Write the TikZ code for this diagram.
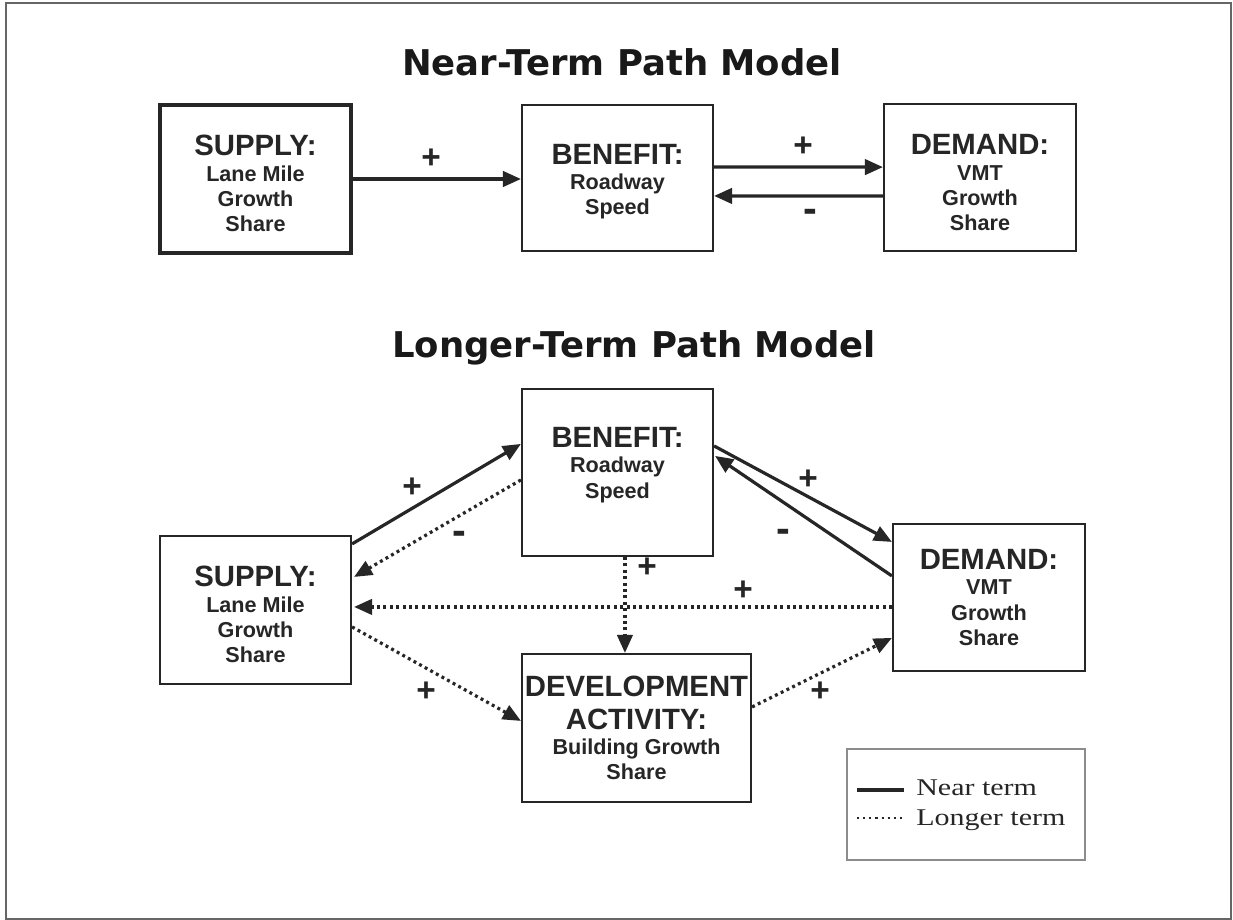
\documentclass[tikz,border=0pt]{standalone}
\usepackage{fontspec}
\setmainfont{Liberation Serif}
\setsansfont{Liberation Sans}
\newfontfamily\titlefont{DejaVu Sans}
\newfontfamily\legfont[FakeStretch=1.25]{Liberation Serif}
\usetikzlibrary{arrows.meta,calc}
\newcommand{\hdf}{\fontsize{22}{19}\selectfont}
\newcommand{\sbf}{\fontsize{16.2}{19}\selectfont}
\newcommand{\topr}[1]{\rule{0pt}{#1}}
\begin{document}
\begin{tikzpicture}[x=0.75pt,y=-0.75pt,
  box/.style={draw=black!85, line width=1.6pt, fill=white, align=center, inner sep=0pt,
    font=\sffamily\bfseries\sbf, text=black!85},
  near/.style={line width=2.4pt, black!85, -{Triangle[length=13.5pt,width=11.5pt]}},
  far/.style={line width=2.4pt, black!85, dash pattern=on 2.2pt off 2.6pt, -{Triangle[length=13.5pt,width=11.5pt]}},
  sign/.style={font=\fontsize{25}{25}\selectfont\sffamily\bfseries, text=black!85, inner sep=0pt},
  minus/.style={font=\fontsize{31}{31}\selectfont\sffamily\bfseries, text=black!85, inner sep=0pt},
  ttl/.style={font=\titlefont\bfseries\fontsize{26.6}{30}\selectfont, text=black!90, inner sep=0pt},
  leg/.style={font=\legfont\fontsize{18}{21}\selectfont, text=black!85, inner sep=0pt, anchor=base west}]
\useasboundingbox (0,0) rectangle (1233,920);
\fill[white] (0,0) rectangle (1233,920);
\draw[black!60, line width=1.5pt] (6,3) rectangle (1231,919);

% titles
\node[ttl] (t1) at (622,62) {Near-Term Path Model};
\node[ttl] (t2) at (634,348) {Longer-Term Path Model};

% near-term boxes
\node[box, line width=2.4pt, minimum width=143.25pt, minimum height=111pt] (sup1) at (255.5,179)
  {{\hdf\topr{22.5pt}SUPPLY:}\\Lane Mile\\Growth\\Share};
\node[box, minimum width=143.25pt, minimum height=109.5pt] (ben1) at (617.5,178)
  {{\hdf\topr{20.4pt}BENEFIT:}\\Roadway\\Speed};
\node[box, minimum width=144pt, minimum height=110pt] (dem1) at (980,177.5)
  {{\hdf\topr{23.2pt}DEMAND:}\\VMT\\Growth\\Share};

\draw[near] (sup1.east) -- (sup1.east -| ben1.west);
\draw[near] ($(ben1.north east)+(0,63)$) -- ($(dem1.north west)+(0,64)$);
\draw[near] ($(dem1.north west)+(0,93)$) -- ($(ben1.north east)+(0,92)$);
\node[sign] (p1) at (431,159) {+};
\node[sign] (p2) at (803,147) {+};
\node[minus] (m1) at (810,216) {-};

% longer-term boxes
\node[box, minimum width=143.25pt, minimum height=125.25pt] (ben2) at (617.5,472.5)
  {{\hdf BENEFIT:}\\Roadway\\Speed\rule[-14.5pt]{0pt}{14.5pt}};
\node[box, minimum width=143.25pt, minimum height=111pt] (sup2) at (255.5,610)
  {{\hdf\topr{22.5pt}SUPPLY:}\\Lane Mile\\Growth\\Share};
\node[box, minimum width=144pt, minimum height=110.25pt] (dem2) at (989,597.5)
  {{\hdf DEMAND:}\\VMT\\Growth\\Share};
\node[box, minimum width=171.75pt, minimum height=111pt] (dev) at (636.5,728)
  {{\hdf DEVELOPMENT}\\[5.75pt]{\hdf ACTIVITY:}\\Building Growth\\Share};

\draw[near] ($(sup2.north east)+(0,9)$) -- ($(ben2.north west)+(0,56)$);
\draw[far] ($(ben2.north west)+(0,92)$) -- ($(sup2.north east)+(2,42)$);
\draw[near] ($(ben2.north east)+(0,58)$) -- ($(dem2.north west)+(0,19)$);
\draw[near] ($(dem2.north west)+(0,53)$) -- ($(ben2.north east)+(1,68)$);
\draw[far] ($(ben2.south west)+(104,0)$) -- ($(dev.north west)+(104,0)$);
\draw[far] ($(dem2.north west)+(0,84)$) -- ($(sup2.north east)+(2,72)$);
\draw[far] ($(sup2.north east)+(0,92)$) -- ($(dev.north west)+(0,68)$);
\draw[far] ($(dev.north east)+(0,54)$) -- ($(dem2.north west)+(0,115)$);

\node[sign] (p3) at (412,488) {+};
\node[minus] (m2) at (459,538) {-};
\node[sign] (p4) at (808,480) {+};
\node[minus] (m3) at (783,536) {-};
\node[sign] (p5) at (647,568) {+};
\node[sign] (p6) at (743,591) {+};
\node[sign] (p7) at (426,692) {+};
\node[sign] (p8) at (820,692) {+};

% legend
\node[draw=black!45, line width=1pt, minimum width=178.5pt, minimum height=83.25pt, inner sep=0pt] (lg) at (966,804.5) {};
\coordinate (l1a) at (857,790);
\coordinate (l1b) at (904,790);
\coordinate (l2a) at (857,818);
\coordinate (l2b) at (904,818);
\draw[line width=2.4pt, black!85] (l1a) -- (l1b);
\draw[line width=2pt, black!85, dash pattern=on 1.6pt off 3pt] (l2a) -- (l2b);
\node[leg] (n1) at (916,795) {Near term};
\node[leg] (n2) at (916,825) {Longer term};
\end{tikzpicture}
\end{document}
